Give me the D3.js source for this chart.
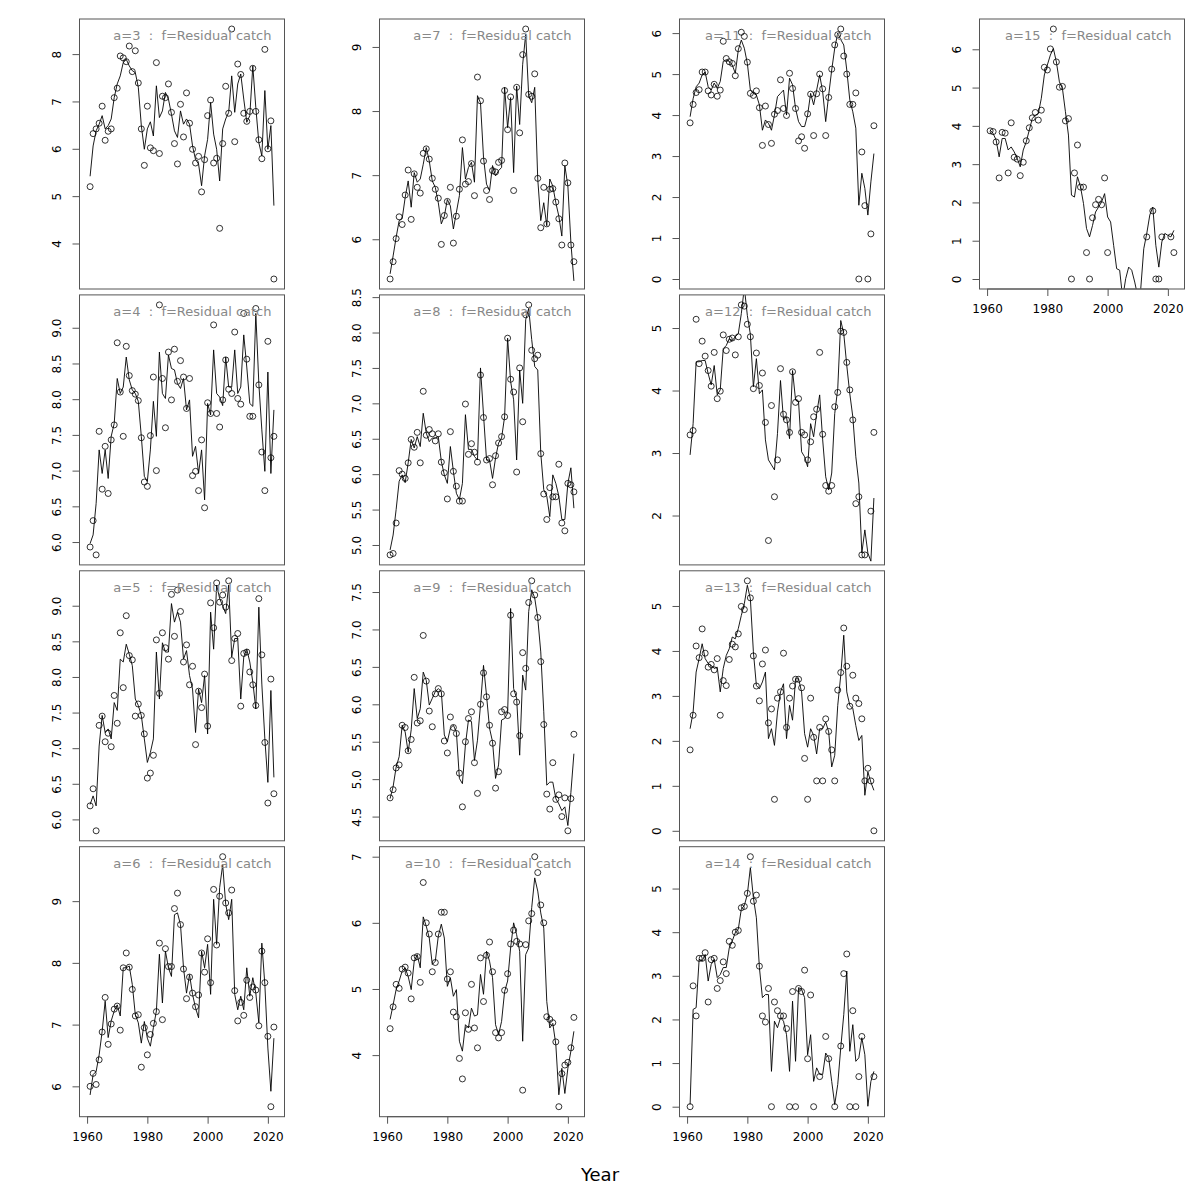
<!DOCTYPE html>
<html><head><meta charset="utf-8">
<script src="https://cdn.jsdelivr.net/npm/d3@7"></script>
<style>body{margin:0;background:#fff} svg{display:block} text{font-family:"DejaVu Sans",sans-serif}</style>
</head><body>
<svg id="chart" width="1200" height="1200"></svg>
<script>
const years = [1961,1962,1963,1964,1965,1966,1967,1968,1969,1970,1971,1972,1973,1974,1975,1976,1977,1978,1979,1980,1981,1982,1983,1984,1985,1986,1987,1988,1989,1990,1991,1992,1993,1994,1995,1996,1997,1998,1999,2000,2001,2002,2003,2004,2005,2006,2007,2008,2009,2010,2011,2012,2013,2014,2015,2016,2017,2018,2019,2020,2021,2022];
const ages = [3,4,5,6,7,8,9,10,11,12,13,14,15];
const xLimYears = [1960, 2023];
const xTickValues = [1960, 1980, 2000, 2020];
const yTickSteps = [1,0.5,0.5,1,1,0.5,0.5,1,1,1,1,1,1];
const fleetLabel = "f=Residual catch";
const xTitle = "Year";

const obsA3 = [5.20,6.32,6.42,6.54,6.90,6.18,6.37,6.42,7.08,7.28,7.96,7.92,7.84,8.17,7.63,8.07,7.39,6.42,5.65,6.90,6.02,5.96,7.82,5.90,7.11,7.08,7.37,6.77,6.11,5.68,6.94,6.25,7.18,6.54,5.99,5.70,5.84,5.09,5.77,6.70,7.03,5.70,5.80,4.32,6.11,7.32,6.75,8.53,6.15,7.79,7.57,6.75,6.58,6.79,7.70,6.79,6.19,5.79,8.10,6.00,6.59,3.25];
const fitA3 = [5.42,6.06,6.38,6.52,6.70,6.42,6.49,6.63,7.08,7.37,7.54,7.82,7.89,7.75,7.65,7.61,7.30,6.49,5.99,6.42,6.57,6.27,7.33,6.66,6.80,7.19,7.05,6.73,6.38,6.24,6.80,6.52,6.63,6.52,6.06,5.77,5.68,5.22,5.85,6.20,6.98,6.31,5.99,5.32,6.42,6.63,6.77,7.54,6.77,7.37,7.58,7.05,6.56,6.70,7.75,6.87,6.13,5.85,7.23,5.99,6.49,4.80];
const obsA4 = [5.93,6.30,5.82,7.55,6.74,7.34,6.68,7.43,7.64,8.79,8.10,7.48,8.74,8.33,8.12,8.07,7.98,7.46,6.84,6.78,7.49,8.31,7.00,9.32,8.29,7.60,8.66,7.99,8.70,8.25,8.54,8.31,7.87,8.29,6.93,6.99,6.72,7.43,6.48,7.95,7.80,9.04,7.80,7.61,7.99,8.55,8.14,8.08,8.94,8.01,7.93,9.20,8.56,7.76,7.76,9.27,8.20,7.26,6.72,8.81,7.18,7.48];
const fitA4 = [5.98,6.10,6.54,7.29,6.96,7.29,6.89,7.48,7.66,8.29,8.08,8.17,8.59,8.27,8.13,8.08,7.97,7.48,6.92,6.85,7.29,7.97,7.48,8.66,8.08,8.01,8.62,8.43,8.41,8.22,8.15,8.29,7.85,7.99,7.20,7.34,6.96,7.29,6.59,7.94,7.78,8.69,8.08,8.03,7.91,8.59,8.17,8.17,8.69,8.08,8.17,8.90,8.45,7.94,7.90,9.20,8.22,7.57,6.99,8.38,6.96,7.85];
const obsA5 = [6.19,6.43,5.84,7.32,7.45,7.09,7.21,7.02,7.74,7.35,8.62,7.85,8.86,8.30,8.24,7.45,7.62,7.46,7.20,6.58,6.65,6.90,8.52,7.77,8.62,8.41,8.25,9.16,8.57,9.22,8.92,8.21,8.45,7.89,8.15,7.05,7.80,7.57,8.04,7.31,9.04,8.69,9.32,9.05,9.15,8.98,9.35,8.23,8.54,8.61,7.59,8.33,8.35,8.07,7.89,7.60,9.10,8.31,7.08,6.23,7.97,6.36];
const fitA5 = [6.21,6.33,6.19,7.03,7.46,7.22,7.27,7.13,7.64,7.53,8.25,8.21,8.46,8.32,8.16,7.69,7.60,7.46,7.13,6.80,6.94,7.13,8.35,7.69,8.48,8.35,8.35,9.03,8.77,8.91,8.77,8.25,8.37,8.02,7.83,7.22,7.83,7.64,8.02,7.20,8.91,8.39,9.29,9.10,9.00,8.89,9.29,8.28,8.54,8.54,7.69,8.28,8.39,8.21,7.93,7.55,8.98,7.90,7.13,6.52,7.81,6.59];
const obsA6 = [6.00,6.21,6.03,6.43,6.88,7.44,6.68,7.01,7.25,7.30,6.91,7.92,8.16,7.93,7.57,7.14,7.16,6.31,6.95,6.51,6.84,7.02,7.21,8.32,7.08,8.23,7.94,7.94,8.88,9.13,8.62,7.90,7.42,7.77,7.51,7.29,7.48,8.16,7.85,8.39,7.68,9.19,8.29,9.08,9.72,8.97,8.81,9.18,7.55,7.06,7.36,7.15,7.72,7.44,7.61,7.56,6.98,8.19,7.68,6.81,5.67,6.96];
const fitA6 = [5.86,6.19,6.24,6.51,6.89,7.38,6.79,7.06,7.22,7.32,7.14,7.92,7.92,7.95,7.65,7.16,7.03,6.70,7.05,6.78,6.65,6.95,7.22,8.14,7.35,8.19,7.92,7.78,8.78,8.81,8.62,7.92,7.51,7.81,7.49,7.27,7.11,8.19,7.92,8.30,7.49,9.03,8.30,9.22,9.59,8.95,8.70,9.03,7.49,7.24,7.46,7.24,7.92,7.46,7.76,7.51,7.03,8.32,7.65,6.62,5.92,6.78];
const obsA7 = [5.38,5.65,6.01,6.35,6.23,6.69,7.08,6.31,7.02,6.81,6.72,7.34,7.41,7.25,6.95,6.78,6.64,5.92,6.37,6.59,6.81,5.94,6.36,6.78,7.55,6.86,6.90,7.18,6.68,8.53,8.16,7.22,6.76,6.62,7.07,7.05,7.20,7.23,8.32,7.71,8.22,6.76,8.37,7.66,8.88,9.28,8.26,8.23,8.58,6.95,6.18,6.81,6.24,6.78,6.79,6.58,6.32,5.91,7.19,6.88,5.91,5.65];
const fitA7 = [5.46,5.74,6.03,6.29,6.32,6.65,6.91,6.50,7.04,6.89,6.94,7.17,7.43,7.22,6.91,6.81,6.57,6.24,6.36,6.62,6.52,6.16,6.42,6.68,7.43,6.94,7.12,7.20,6.89,8.24,8.13,7.28,6.86,6.76,7.15,6.99,7.07,7.12,8.37,7.74,8.21,7.04,8.39,7.79,8.73,9.20,8.24,8.13,8.37,6.94,6.29,6.57,6.21,6.94,6.83,6.57,6.36,6.05,7.15,6.83,5.95,5.35];
const obsA8 = [4.86,4.88,5.31,6.05,6.00,5.94,6.16,6.49,6.38,6.59,6.16,7.17,6.55,6.63,6.57,6.47,6.57,6.17,6.02,5.65,6.60,6.04,5.83,5.62,5.62,6.99,6.28,6.43,6.31,6.17,7.40,6.80,6.20,6.22,5.85,6.26,6.44,6.53,6.81,7.92,7.34,7.16,6.03,7.50,6.74,8.25,8.39,7.75,7.63,7.68,6.29,5.72,5.36,5.81,5.68,5.68,6.14,5.31,5.20,5.87,5.85,5.75];
const fitA8 = [4.93,5.14,5.50,5.90,5.99,5.88,6.16,6.49,6.37,6.53,6.39,6.86,6.58,6.46,6.51,6.51,6.53,6.18,5.99,5.87,6.39,6.04,5.73,5.64,5.87,6.84,6.35,6.35,6.25,6.20,7.50,6.84,6.20,6.20,5.94,6.23,6.44,6.51,6.81,7.92,7.31,7.05,6.20,7.47,7.00,8.18,8.34,7.90,7.52,7.47,6.30,5.78,5.69,5.40,5.99,5.87,5.69,5.36,5.36,5.87,6.09,5.52];
const obsA9 = [4.75,4.86,5.15,5.19,5.72,5.69,5.38,5.53,6.36,5.75,5.78,6.92,6.31,5.91,5.70,6.14,6.21,6.14,5.51,5.35,5.83,5.69,5.61,5.08,4.63,5.50,5.81,5.90,5.22,4.81,6.00,6.42,6.10,5.72,5.48,4.88,5.10,5.90,5.93,5.85,7.19,6.14,6.03,5.58,6.69,6.48,7.36,7.65,7.46,7.16,6.57,5.73,4.80,4.60,5.22,4.73,4.79,4.50,4.75,4.31,4.74,5.60];
const fitA9 = [4.74,4.90,5.16,5.30,5.72,5.63,5.36,5.66,6.21,5.81,5.94,6.43,6.32,5.99,6.08,6.17,6.21,6.17,5.59,5.50,5.68,5.72,5.63,5.01,4.94,5.46,5.79,5.77,5.25,5.52,5.99,6.52,6.12,5.68,5.50,5.01,5.19,5.79,5.81,5.88,7.28,6.21,6.08,5.32,6.39,6.19,7.24,7.53,7.42,7.15,6.70,5.90,4.92,4.96,4.96,4.74,4.67,4.58,4.63,4.38,4.82,5.34];
const obsA10 = [4.40,4.73,5.07,5.01,5.30,5.33,5.24,4.85,5.47,5.49,5.10,6.61,6.00,5.83,5.26,5.40,5.83,6.16,6.16,5.15,5.26,4.65,4.58,3.95,3.64,4.64,4.39,5.07,4.41,4.11,5.47,4.81,5.51,5.71,5.26,4.34,4.26,4.34,4.98,5.23,5.68,5.89,5.72,5.68,3.47,5.67,6.03,6.14,7.00,6.76,6.27,6.00,4.58,4.54,4.49,4.20,3.22,3.72,3.85,3.89,4.11,4.57];
const fitA10 = [4.54,4.76,4.99,5.12,5.27,5.32,5.19,4.99,5.42,5.52,5.32,6.09,5.95,5.77,5.37,5.42,5.80,5.98,5.77,5.04,5.17,4.89,4.99,4.21,4.06,4.46,4.41,4.71,4.59,4.61,5.22,4.92,5.57,5.42,5.17,4.46,4.31,4.51,4.96,5.12,5.62,6.00,5.82,5.57,4.21,5.52,5.62,6.23,6.68,6.48,6.15,5.92,4.81,4.41,4.48,4.16,3.40,3.80,3.42,3.80,4.06,4.36];
const obsA11 = [3.81,4.26,4.55,4.62,5.05,5.05,4.59,4.49,4.75,4.46,4.61,5.80,5.38,5.30,5.26,4.96,5.62,6.02,5.92,5.29,4.53,4.48,4.59,4.18,3.26,4.22,3.77,3.31,4.02,4.11,4.86,4.16,3.99,5.02,4.65,4.16,3.37,3.47,3.19,4.03,4.51,3.50,4.52,5.00,4.64,3.50,4.43,5.12,5.71,5.96,6.10,5.44,5.00,4.26,4.26,4.54,0.00,3.10,1.79,0.00,1.10,3.74];
const fitA11 = [3.96,4.40,4.69,4.78,4.98,5.05,4.69,4.61,4.78,4.65,4.82,5.31,5.35,5.31,5.22,5.02,5.59,5.83,5.63,5.26,4.61,4.53,4.49,4.25,3.63,3.88,3.80,3.63,4.00,4.45,4.53,4.61,4.00,4.90,4.74,4.16,3.84,3.72,3.72,4.00,4.53,4.25,4.61,4.98,4.57,3.84,4.49,5.10,5.63,6.00,5.84,5.71,5.10,4.37,4.08,3.68,1.80,2.58,2.21,1.56,2.37,3.06];
const obsA12 = [3.29,3.36,5.14,4.43,4.79,4.55,4.32,4.07,4.61,3.87,3.99,4.89,4.64,4.82,4.84,4.57,4.86,5.37,5.35,5.06,4.86,4.03,4.60,4.08,4.28,3.49,1.60,3.76,2.30,2.89,4.35,3.62,3.53,3.33,4.30,3.81,3.87,3.33,3.29,2.89,3.18,3.58,3.70,4.61,3.30,2.48,2.39,2.48,3.74,3.97,4.95,4.93,4.45,4.01,3.53,2.19,2.30,1.37,1.37,null,2.07,3.33];
const fitA12 = [2.97,3.47,4.46,4.46,4.48,4.48,4.27,4.09,4.40,3.93,4.01,4.67,4.72,4.83,4.80,4.86,4.91,5.23,5.65,5.20,4.90,4.06,4.51,3.95,4.01,3.21,2.89,2.81,2.73,3.31,4.16,3.53,3.58,3.23,4.32,3.85,3.82,3.02,2.94,2.78,3.47,3.26,3.63,3.93,3.21,2.62,2.41,2.68,3.63,4.03,5.12,4.91,4.40,3.95,3.58,2.94,2.52,1.40,1.77,1.40,1.27,2.28];
const obsA13 = [1.80,2.57,4.11,3.85,4.49,3.95,3.64,3.70,3.58,3.83,2.57,3.34,3.23,3.81,4.15,4.09,4.38,4.99,4.92,5.56,5.18,3.89,3.22,2.89,3.71,4.02,2.40,2.71,0.70,2.95,3.09,3.95,2.30,2.95,3.22,3.37,3.37,3.18,1.61,0.70,2.95,2.08,1.11,2.30,1.11,2.49,2.21,1.80,1.11,3.13,3.52,4.51,3.66,2.77,3.46,2.95,2.83,2.49,1.11,1.39,1.11,0.00];
const fitA13 = [2.27,2.64,3.53,3.83,4.16,3.83,3.72,3.68,3.61,3.64,3.09,3.61,3.90,4.05,4.31,4.27,4.50,4.79,5.05,5.46,5.16,3.98,3.23,3.16,3.31,3.53,2.05,2.27,1.90,2.64,3.09,3.27,2.05,2.79,2.46,3.38,3.38,3.09,2.16,1.86,2.27,2.12,1.71,2.27,2.27,2.42,2.20,1.42,1.68,2.79,3.46,4.35,3.09,2.79,2.72,2.34,2.01,2.12,0.79,1.31,1.08,0.90];
const obsA14 = [0.00,2.77,2.08,3.40,3.40,3.53,2.40,3.37,3.40,2.71,2.89,3.32,3.05,3.79,3.70,4.00,4.04,4.56,4.59,4.89,5.73,4.71,4.85,3.22,2.08,1.94,2.71,0.00,2.40,2.20,2.08,2.08,1.79,0.00,2.64,0.00,2.71,2.64,3.13,1.10,2.56,0.00,null,0.69,null,1.61,1.10,null,0.00,null,1.39,3.05,3.50,0.00,2.20,0.00,0.69,1.61,null,null,null,0.69];
const fitA14 = [0.05,2.23,2.27,3.38,3.34,3.49,2.88,3.26,3.38,2.96,3.03,3.19,3.19,3.64,3.80,3.99,4.07,4.53,4.61,4.87,5.48,4.79,4.33,3.19,2.50,2.57,2.57,0.81,1.96,1.81,2.04,1.96,1.65,0.81,2.42,1.04,2.73,2.69,2.50,1.19,1.65,0.58,0.89,0.74,0.74,1.23,1.12,0.58,0.05,0.51,1.35,2.11,3.11,1.27,1.88,1.04,1.12,1.58,1.19,0.01,0.58,0.81];
const obsA15 = [3.87,3.85,3.58,2.64,3.83,3.81,2.77,4.08,3.18,3.13,2.70,3.05,3.61,3.95,4.21,4.35,4.15,4.41,5.53,5.46,6.01,6.53,5.67,5.01,5.03,4.13,4.19,0.00,2.77,3.50,2.40,2.40,0.69,0.00,1.60,1.94,2.08,1.94,2.64,0.69,null,null,null,null,null,null,null,null,null,null,null,null,1.10,null,1.78,0.00,0.00,1.10,null,null,1.10,0.69];
const fitA15 = [3.89,3.80,3.63,3.19,3.67,3.67,3.37,3.45,3.32,3.15,2.93,3.37,3.58,3.89,4.19,4.28,4.32,4.72,5.33,5.59,5.85,6.02,5.67,5.15,4.98,4.37,3.76,2.19,2.14,2.67,2.41,1.97,1.32,1.10,1.40,1.75,1.88,2.01,2.23,1.62,1.49,0.88,0.27,0.23,-0.50,0.01,0.31,0.23,-0.08,-0.45,-0.25,0.79,1.19,1.67,1.88,0.88,0.31,0.97,1.19,1.14,1.10,1.27];

const observed = [obsA3,obsA4,obsA5,obsA6,obsA7,obsA8,obsA9,obsA10,obsA11,obsA12,obsA13,obsA14,obsA15];
const fitted = [fitA3,fitA4,fitA5,fitA6,fitA7,fitA8,fitA9,fitA10,fitA11,fitA12,fitA13,fitA14,fitA15];

const svg = d3.select("#chart");
const W = 205, H = 270;
const colLeft = c => 79.5 + c * 300;
const rowTop = r => 19 + r * 275.9;
const boxColor = "#555";

ages.forEach((age, i) => {
  const col = Math.floor(i / 4), row = i % 4;
  const left = colLeft(col), top = rowTop(row);
  const obs = observed[i], fit = fitted[i];
  const isBottom = (row === 3) || (i === ages.length - 1);

  const xspan = xLimYears[1] - xLimYears[0];
  const x = d3.scaleLinear()
    .domain([xLimYears[0] - 0.04 * xspan, xLimYears[1] + 0.04 * xspan])
    .range([left, left + W]);
  const ext = d3.extent(obs.filter(v => v !== null));
  const pad = 0.04 * (ext[1] - ext[0]);
  const y = d3.scaleLinear().domain([ext[0] - pad, ext[1] + pad]).range([top + H, top]);

  const g = svg.append("g");
  const clipId = "clip" + age;
  svg.append("clipPath").attr("id", clipId)
    .append("rect").attr("x", left).attr("y", top).attr("width", W).attr("height", H);

  const plot = g.append("g").attr("clip-path", `url(#${clipId})`);
  const line = d3.line().x((d, j) => x(years[j])).y(d => y(d));
  plot.append("path").datum(fit).attr("d", line)
    .attr("fill", "none").attr("stroke", "#000").attr("stroke-width", 0.9);

  const pts = years.map((yr, j) => ({yr, v: obs[j]})).filter(d => d.v !== null);
  plot.selectAll("circle").data(pts).enter().append("circle")
    .attr("cx", d => x(d.yr)).attr("cy", d => y(d.v)).attr("r", 3)
    .attr("fill", "none").attr("stroke", "#000").attr("stroke-width", 0.8);

  g.append("rect").attr("x", left).attr("y", top).attr("width", W).attr("height", H)
    .attr("fill", "none").attr("stroke", boxColor).attr("stroke-width", 1);

  const step = yTickSteps[i];
  const [d0, d1] = y.domain();
  const tol = 0.003 * (d1 - d0);
  const tv = d3.range(Math.ceil(d0 / step - 1e-9) * step, d1 + 1e-9, step)
    .map(v => +v.toFixed(2)).filter(v => v >= d0 + tol && v <= d1 - tol);
  const fmt = step < 1 ? d3.format(".1f") : d3.format("d");
  const ya = g.append("g").attr("transform", `translate(${left},0)`)
    .call(d3.axisLeft(y).tickValues(tv).tickFormat(fmt).tickSize(7).tickSizeOuter(0));
  ya.select(".domain").remove();
  ya.selectAll(".tick line").attr("stroke", boxColor);
  ya.selectAll(".tick text")
    .attr("x", null).attr("dy", "0.36em").attr("text-anchor", "middle")
    .attr("transform", "translate(-22.5,0) rotate(-90)")
    .attr("font-size", 12).attr("font-family", "DejaVu Sans").attr("fill", "#000");

  if (isBottom) {
    const xa = g.append("g").attr("transform", `translate(0,${top + H})`)
      .call(d3.axisBottom(x).tickValues(xTickValues).tickFormat(d3.format("d")).tickSize(7).tickSizeOuter(0));
    xa.select(".domain").attr("d", `M${x(xTickValues[0])},0H${x(xTickValues[xTickValues.length-1])}`).attr("stroke", boxColor);
    xa.selectAll(".tick line").attr("stroke", boxColor);
    xa.selectAll(".tick text").attr("y", 20).attr("dy", "0.36em")
      .attr("font-size", 12).attr("font-family", "DejaVu Sans").attr("fill", "#000");
  }

  g.append("text").attr("x", left + W - 13).attr("y", top + 21)
    .attr("text-anchor", "end").attr("xml:space", "preserve").style("white-space", "pre")
    .attr("font-size", 13).attr("fill", "#888")
    .text(`a=${age}  :  ${fleetLabel}`);
});

svg.append("text").attr("x", 600).attr("y", 1181).attr("text-anchor", "middle")
  .attr("font-size", 18).attr("fill", "#000").text(xTitle);
</script>
</body></html>
